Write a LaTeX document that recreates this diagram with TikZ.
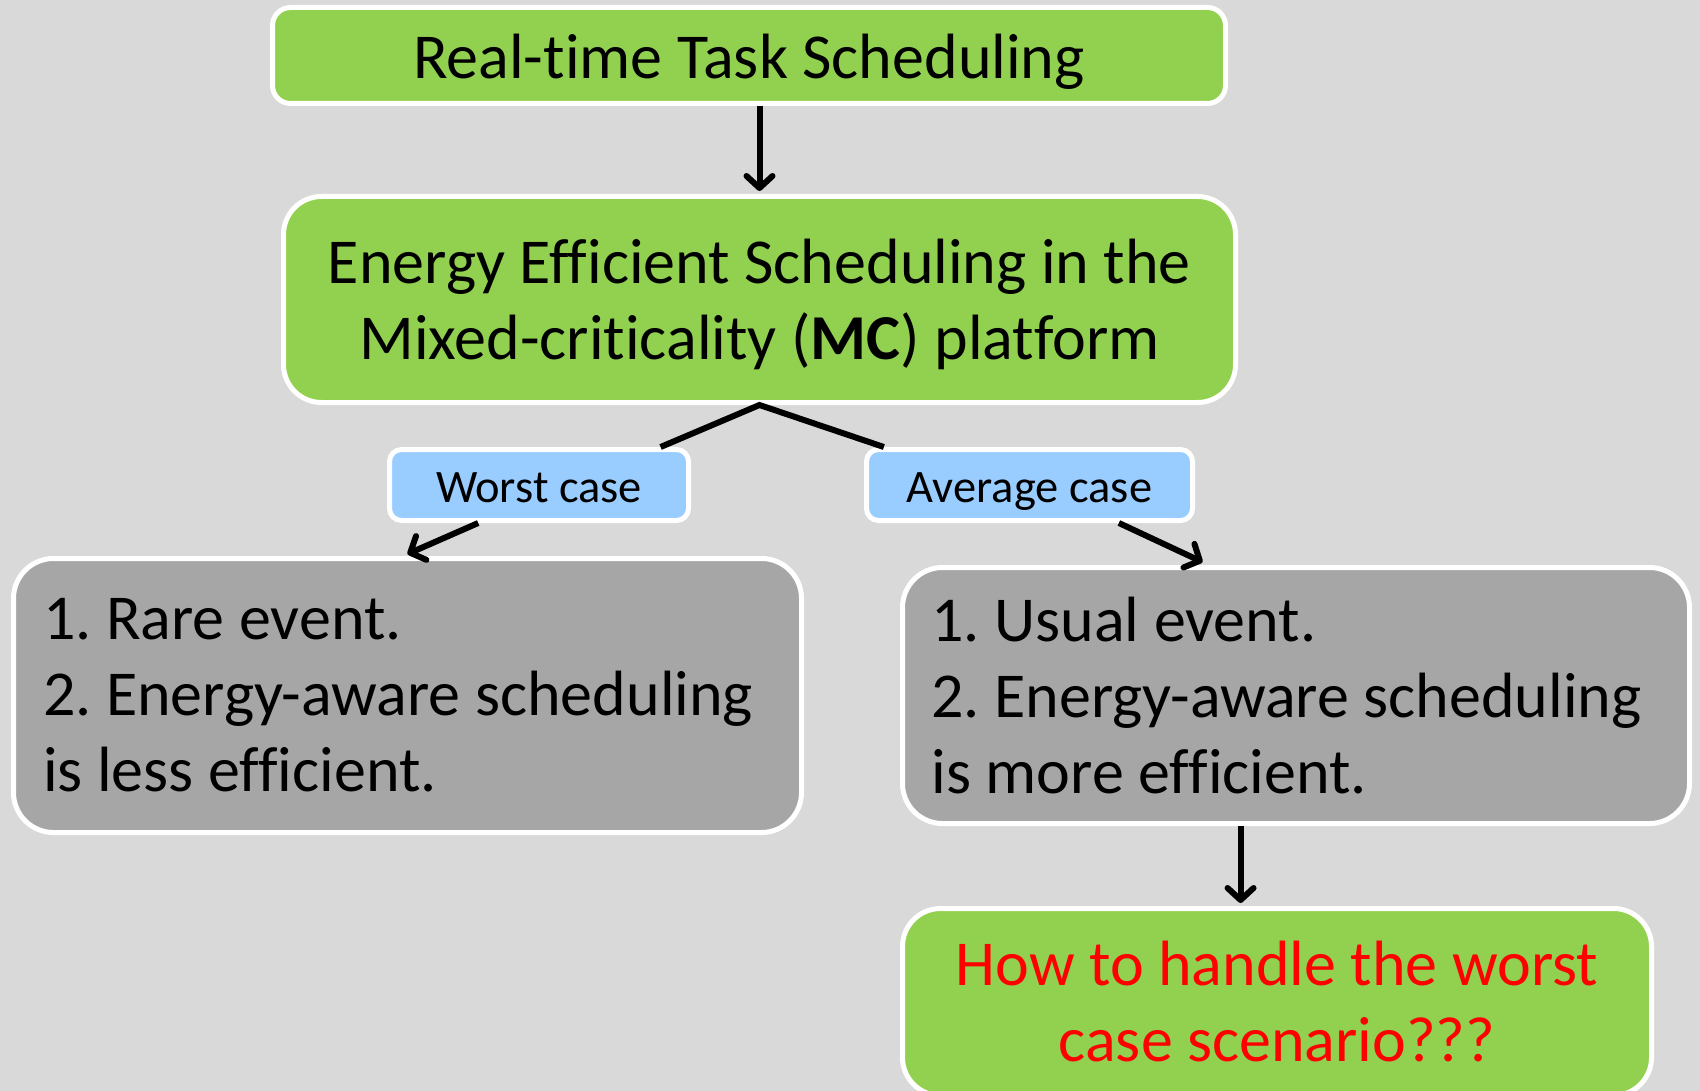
\documentclass[tikz,border=0pt]{standalone}
\usepackage{fontspec}
\setmainfont{Carlito}[Ligatures=NoCommon]
\usetikzlibrary{arrows.meta,calc}
\definecolor{bgc}{HTML}{D9D9D9}
\definecolor{grn}{HTML}{92D050}
\definecolor{blu}{HTML}{99CCFF}
\definecolor{gry}{HTML}{A6A6A6}
\newcommand\bigtxt{\fontsize{64}{76}\selectfont\frenchspacing}
\newcommand\lbltxt{\fontsize{46.5}{55}\selectfont}
\begin{document}
\begin{tikzpicture}[x=1pt,y=-1pt,
  box/.style={draw=white, line width=5pt, rounded corners=#1, inner sep=0pt},
  box/.default=20pt,
  ln/.style={line width=6pt, draw=black},
  arr/.style={line width=6pt, draw=black, -{Straight Barb[length=12pt,width=26pt,line cap=round,line join=round]}}]
\useasboundingbox (0,0) rectangle (1700,1091);
\clip (0,0) rectangle (1700,1091);
\fill[bgc] (0,0) rectangle (1700,1091);

\node[box=18pt, fill=grn, minimum width=953pt, minimum height=96pt, font=\bigtxt, text height=47pt, text depth=0pt] (top) at (749,55.5) {Real-time Task Scheduling};

\node[box=38pt, fill=grn, minimum width=952pt, minimum height=206pt] (mid) at (759.5,299.5) {};
\node[font=\bigtxt, align=center, inner sep=0pt] (midtext) at (759.5,304.5)
  {Energy Efficient Scheduling in the\\Mixed-criticality (\textbf{MC}) platform};

\node[box=12pt, fill=blu, minimum width=299pt, minimum height=71pt, font=\lbltxt, text height=34pt, text depth=0pt] (worst) at (539,485) {Worst case};
\node[box=12pt, fill=blu, minimum width=326pt, minimum height=71pt, font=\lbltxt, text height=34pt, text depth=0pt] (avg) at (1029.5,485) {Average case};

\node[box=40pt, fill=gry, minimum width=788pt, minimum height=274pt, text width=729pt, align=flush left, font=\bigtxt] (left) at (407.5,695.5)
  {1. Rare event.\\2. Energy-aware scheduling\\is less efficient.};
\node[box=40pt, fill=gry, minimum width=787pt, minimum height=256pt, text width=729pt, align=flush left, font=\bigtxt] (right) at (1296,695.5)
  {1. Usual event.\\2. Energy-aware scheduling\\is more efficient.};

\node[box=38pt, fill=grn, minimum width=749pt, minimum height=187pt, font=\bigtxt, text=red, align=center] (q) at (1277,1002)
  {How to handle the worst\\case scenario???};

\draw[arr] (mid.north |- top.south) -- ($(mid.north)+(0,-3)$);
\draw[ln] ($(worst.north west)!0.9!(worst.north east)$) -- (mid.south) -- ($(avg.north west)!0.06!(avg.north east)$);
\draw[arr] ($(worst.south west)!0.3!(worst.south east)$) -- ($(left.north)+(0,-2)$);
\draw[arr, shorten >=7pt] ($(avg.south west)!0.77!(avg.south east)$) -- ($(right.north west)!0.39!(right.north east)$);
\draw[arr] ($(right.south west)!0.43!(right.south east)$) coordinate (rs) -- ($(rs |- q.north)+(0,-3)$);
\end{tikzpicture}
\end{document}
